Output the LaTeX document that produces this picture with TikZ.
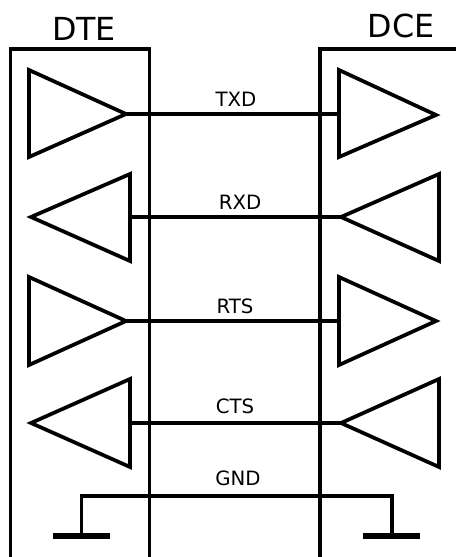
\documentclass[tikz,border=0pt]{standalone}
\usepackage{fontspec}
\setmainfont{DejaVu Sans}
\begin{document}
\begin{tikzpicture}[x=1pt,y=-1pt,
  ln/.style={line width=2.6pt,black},
  tri/.style={line width=2.8pt,black,line join=miter},
  lab/.style={font=\fontsize{14.8pt}{16pt}\selectfont,inner sep=0pt},
  head/.style={font=\fontsize{23.8pt}{26pt}\selectfont,inner sep=0pt}]
\useasboundingbox (0,0) rectangle (342,417.75);
\begin{scope}[scale=0.75]
\draw[ln] (10.5,557) -- (10.5,49) -- (149.5,49) -- (149.5,557);
\draw[ln] (320,557) -- (320,49) -- (457,49);
\node[head] (dte) at (84,29) {DTE};
\node[head] (dce) at (401,26) {DCE};
\draw[tri] (29,70) -- (126,114) -- (29,157) -- cycle;
\draw[tri] (339,70) -- (436,115) -- (339,157) -- cycle;
\draw[tri] (130,174) -- (31,217) -- (130,261) -- cycle;
\draw[tri] (439,174) -- (341,217) -- (439,261) -- cycle;
\draw[tri] (29,277) -- (126,321) -- (29,365) -- cycle;
\draw[tri] (339,277) -- (436,321) -- (339,365) -- cycle;
\draw[tri] (130,379) -- (31,423) -- (130,467) -- cycle;
\draw[tri] (439,379) -- (341,423) -- (439,467) -- cycle;
\coordinate (t1) at (126,114); \coordinate (t2) at (339,114);
\coordinate (r1) at (130,217); \coordinate (r2) at (341,217);
\coordinate (s1) at (126,321); \coordinate (s2) at (339,321);
\coordinate (c1) at (130,423); \coordinate (c2) at (341,423);
\draw[ln] (t1) -- (t2);
\draw[ln] (r1) -- (r2);
\draw[ln] (s1) -- (s2);
\draw[ln] (c1) -- (c2);
\node[lab] (txd) at (236,99) {TXD};
\node[lab] (rxd) at (240,202) {RXD};
\node[lab] (rts) at (235,306) {RTS};
\node[lab] (cts) at (235,406) {CTS};
\node[lab] (gnd) at (238,478) {GND};
\draw[ln,line join=miter] (81.5,536) -- (81.5,496) -- (392,496) -- (392,536);
\draw[line width=4.4pt] (53,536) -- (110,536);
\draw[line width=4.4pt] (363,536) -- (420,536);
\end{scope}
\end{tikzpicture}
\end{document}
